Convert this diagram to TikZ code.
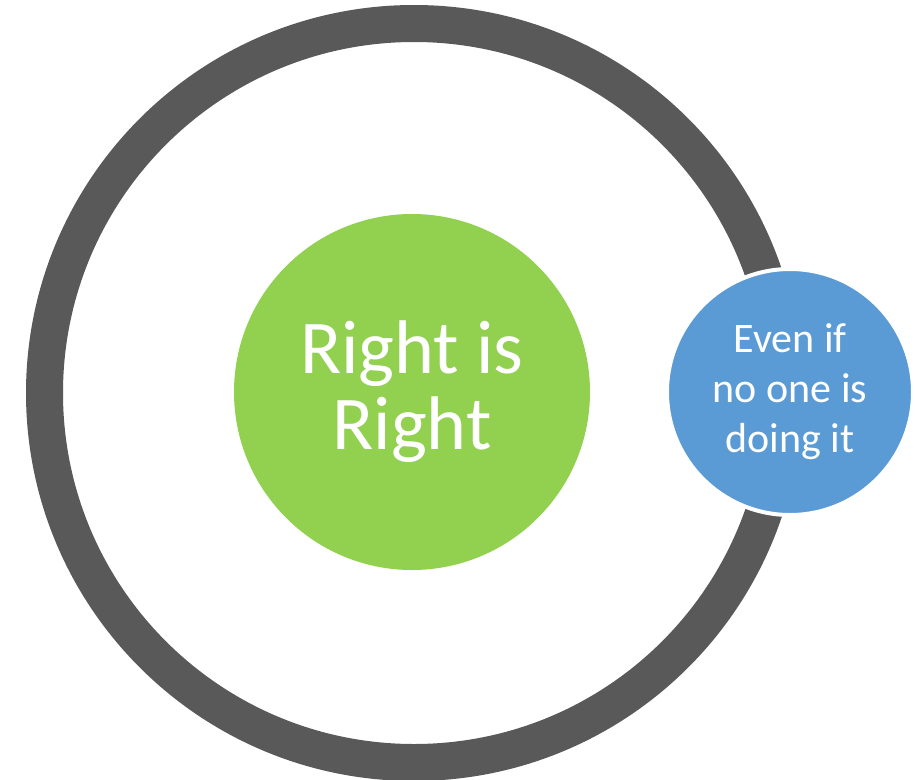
\documentclass[tikz,border=0pt]{standalone}
\usepackage{fontspec}
\setmainfont{Carlito}
\definecolor{ringgray}{HTML}{595959}
\definecolor{rightgreen}{HTML}{92D050}
\definecolor{evenblue}{HTML}{5B9BD5}
\tikzset{
  disc/.style={circle, inner sep=0pt, align=center, text=white},
}
\begin{document}
\begin{tikzpicture}[x=1pt, y=-1pt]
\useasboundingbox (0,0) rectangle (915,779);
\draw [ringgray, line width=37pt] (414,393) circle (369.5);
\node [disc, fill=rightgreen, minimum size=356pt, font=\fontsize{76}{76}\selectfont] (right) at (412,392) {Right is\\Right};
\node [disc, fill=evenblue, draw=white, line width=4pt, minimum size=246pt, font=\fontsize{42}{50}\selectfont] (even) at (790,392) {Even if\\no one is\\doing it};
\end{tikzpicture}
\end{document}
